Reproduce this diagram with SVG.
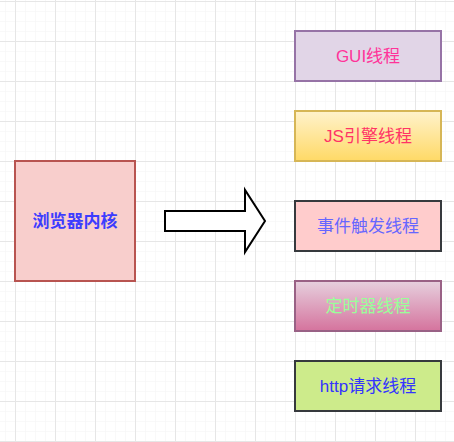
<svg xmlns="http://www.w3.org/2000/svg" width="454" height="442" viewBox="0 0 454 442">
<defs>
<pattern id="minor" width="10" height="10" patternUnits="userSpaceOnUse" x="5" y="1">
<path d="M0 0H10M0 0V10" fill="none" stroke="#f3f3f3" stroke-width="1"/>
</pattern>
<pattern id="major" width="40" height="40" patternUnits="userSpaceOnUse" x="15" y="1">
<path d="M0 0.5H40M0.5 0V40" fill="none" stroke="#e6e6e6" stroke-width="1"/>
</pattern>
<linearGradient id="gJs" x1="0" y1="0" x2="0" y2="1">
<stop offset="0" stop-color="#fff2cc"/>
<stop offset="1" stop-color="#ffd966"/>
</linearGradient>
<linearGradient id="gTimer" x1="0" y1="0" x2="0" y2="1">
<stop offset="0" stop-color="#e6d0de"/>
<stop offset="1" stop-color="#d5739d"/>
</linearGradient>
</defs>
<style>
text{font-family:"Liberation Sans","Noto Sans CJK SC",sans-serif;font-size:17px;text-anchor:middle;dominant-baseline:central}
.box{stroke-width:2}
</style>
<rect width="454" height="442" fill="#ffffff"/>
<rect width="454" height="442" fill="url(#minor)"/>
<rect width="454" height="442" fill="url(#major)"/>
<g id="connectors">
<path d="M165 211H245V190L265 221L245 252V231H165Z" fill="#ffffff" stroke="#000000" stroke-width="2" stroke-linejoin="miter"/>
</g>
<g id="kernel">
<rect class="box" x="15" y="161" width="120" height="120" fill="#f8cecc" stroke="#b85450"/>
<text x="75" y="221" fill="#3d3dff" font-weight="bold">浏览器内核</text>
</g>
<g id="gui">
<rect class="box" x="295" y="31" width="146" height="50" fill="#e1d5e7" stroke="#9673a6"/>
<text x="368" y="56" fill="#ff3399">GUI线程</text>
</g>
<g id="js">
<rect class="box" x="295" y="111" width="146" height="50" fill="url(#gJs)" stroke="#d6b656"/>
<text x="368" y="136" fill="#ff3366">JS引擎线程</text>
</g>
<g id="event">
<rect class="box" x="295" y="201" width="146" height="50" fill="#ffcccc" stroke="#36393d"/>
<text x="368" y="226" fill="#6666ff">事件触发线程</text>
</g>
<g id="timer">
<rect class="box" x="295" y="281" width="146" height="50" fill="url(#gTimer)" stroke="#996185"/>
<text x="368" y="306" fill="#99ff99">定时器线程</text>
</g>
<g id="http">
<rect class="box" x="295" y="361" width="146" height="50" fill="#cdeb8b" stroke="#36393d"/>
<text x="368" y="386" fill="#3333ff">http请求线程</text>
</g>
</svg>
